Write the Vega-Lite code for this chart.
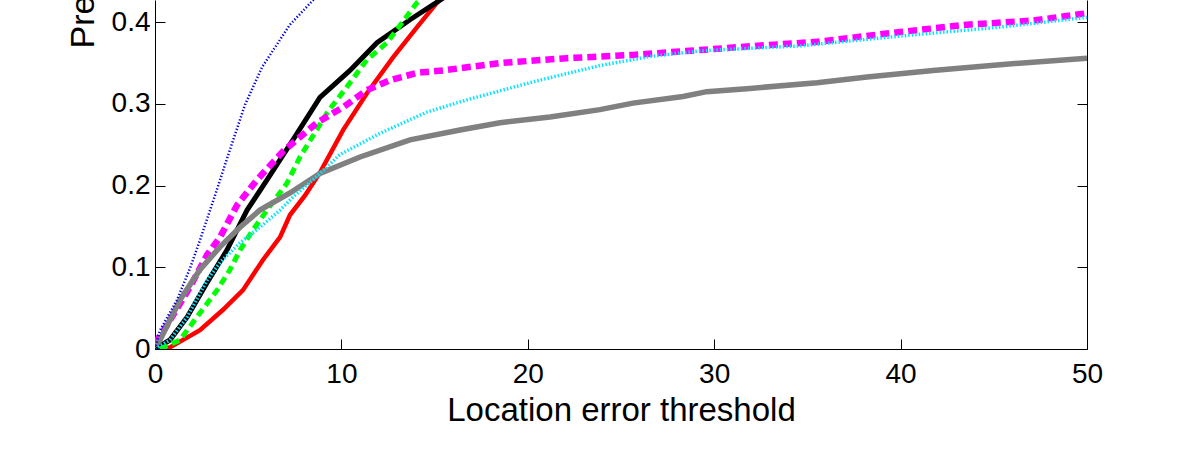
{
  "$schema": "https://vega.github.io/schema/vega-lite/v6.json",
  "width": 932,
  "height": 349,
  "autosize": {"type": "none"},
  "padding": {"left": 155, "top": 0, "right": 114, "bottom": 100},
  "background": "white",
  "config": {
    "view": {"stroke": null},
    "font": "Liberation Sans",
    "axis": {"domainColor": "black", "tickColor": "black", "labelColor": "black", "titleColor": "black", "grid": false, "labelFont": "Liberation Sans", "titleFont": "Liberation Sans", "labelFontSize": 28, "titleFontSize": 33, "titleFontWeight": "normal", "domainWidth": 1, "tickWidth": 1}
  },
  "datasets": {
    "curves": [
      {"s": "blue", "x": 0, "y": 0}, {"s": "blue", "x": 0.27, "y": 0.023}, {"s": "blue", "x": 1.18, "y": 0.06}, {"s": "blue", "x": 1.88, "y": 0.099}, {"s": "blue", "x": 2.41, "y": 0.133}, {"s": "blue", "x": 3.22, "y": 0.188}, {"s": "blue", "x": 4.02, "y": 0.244}, {"s": "blue", "x": 4.83, "y": 0.299}, {"s": "blue", "x": 5.74, "y": 0.345}, {"s": "blue", "x": 7.24, "y": 0.397}, {"s": "blue", "x": 8.48, "y": 0.427}, {"s": "blue", "x": 10.0, "y": 0.46},
      {"s": "black", "x": 0, "y": 0}, {"s": "black", "x": 0.8, "y": 0.011}, {"s": "black", "x": 1.72, "y": 0.039}, {"s": "black", "x": 2.79, "y": 0.081}, {"s": "black", "x": 3.86, "y": 0.121}, {"s": "black", "x": 4.94, "y": 0.17}, {"s": "black", "x": 6.01, "y": 0.207}, {"s": "black", "x": 7.4, "y": 0.256}, {"s": "black", "x": 8.85, "y": 0.308}, {"s": "black", "x": 10.46, "y": 0.341}, {"s": "black", "x": 11.91, "y": 0.375}, {"s": "black", "x": 13.68, "y": 0.403}, {"s": "black", "x": 15.29, "y": 0.427}, {"s": "black", "x": 16.8, "y": 0.45},
      {"s": "green", "x": 0.27, "y": 0}, {"s": "green", "x": 1.34, "y": 0.011}, {"s": "green", "x": 2.41, "y": 0.044}, {"s": "green", "x": 3.33, "y": 0.072}, {"s": "green", "x": 4.02, "y": 0.097}, {"s": "green", "x": 4.56, "y": 0.121}, {"s": "green", "x": 5.26, "y": 0.146}, {"s": "green", "x": 6.01, "y": 0.17}, {"s": "green", "x": 7.08, "y": 0.203}, {"s": "green", "x": 7.78, "y": 0.235}, {"s": "green", "x": 9.23, "y": 0.289}, {"s": "green", "x": 10.46, "y": 0.326}, {"s": "green", "x": 11.37, "y": 0.354}, {"s": "green", "x": 12.45, "y": 0.375}, {"s": "green", "x": 14.06, "y": 0.424}, {"s": "green", "x": 15.2, "y": 0.45},
      {"s": "red", "x": 0, "y": 0}, {"s": "red", "x": 0.8, "y": 0.002}, {"s": "red", "x": 2.41, "y": 0.023}, {"s": "red", "x": 3.65, "y": 0.048}, {"s": "red", "x": 4.72, "y": 0.072}, {"s": "red", "x": 5.79, "y": 0.109}, {"s": "red", "x": 6.71, "y": 0.137}, {"s": "red", "x": 7.24, "y": 0.164}, {"s": "red", "x": 8.05, "y": 0.188}, {"s": "red", "x": 8.85, "y": 0.216}, {"s": "red", "x": 10.09, "y": 0.268}, {"s": "red", "x": 11.37, "y": 0.313}, {"s": "red", "x": 12.77, "y": 0.357}, {"s": "red", "x": 14.06, "y": 0.394}, {"s": "red", "x": 15.13, "y": 0.424}, {"s": "red", "x": 16.2, "y": 0.45},
      {"s": "magenta", "x": 0, "y": 0.007}, {"s": "magenta", "x": 0.64, "y": 0.029}, {"s": "magenta", "x": 1.88, "y": 0.076}, {"s": "magenta", "x": 2.79, "y": 0.115}, {"s": "magenta", "x": 3.49, "y": 0.137}, {"s": "magenta", "x": 4.4, "y": 0.176}, {"s": "magenta", "x": 5.47, "y": 0.207}, {"s": "magenta", "x": 6.87, "y": 0.242}, {"s": "magenta", "x": 8.69, "y": 0.277}, {"s": "magenta", "x": 10.09, "y": 0.296}, {"s": "magenta", "x": 11.37, "y": 0.317}, {"s": "magenta", "x": 12.61, "y": 0.329}, {"s": "magenta", "x": 14.06, "y": 0.338}, {"s": "magenta", "x": 15.45, "y": 0.341}, {"s": "magenta", "x": 18.51, "y": 0.35}, {"s": "magenta", "x": 22.1, "y": 0.356}, {"s": "magenta", "x": 25.64, "y": 0.36}, {"s": "magenta", "x": 29.24, "y": 0.366}, {"s": "magenta", "x": 32.83, "y": 0.372}, {"s": "magenta", "x": 35.52, "y": 0.376}, {"s": "magenta", "x": 39.97, "y": 0.388}, {"s": "magenta", "x": 43.56, "y": 0.397}, {"s": "magenta", "x": 47.1, "y": 0.402}, {"s": "magenta", "x": 50, "y": 0.411},
      {"s": "cyan", "x": 0, "y": 0}, {"s": "cyan", "x": 0.8, "y": 0.011}, {"s": "cyan", "x": 1.72, "y": 0.039}, {"s": "cyan", "x": 2.79, "y": 0.084}, {"s": "cyan", "x": 3.49, "y": 0.106}, {"s": "cyan", "x": 4.56, "y": 0.13}, {"s": "cyan", "x": 5.79, "y": 0.152}, {"s": "cyan", "x": 6.71, "y": 0.17}, {"s": "cyan", "x": 7.4, "y": 0.186}, {"s": "cyan", "x": 8.58, "y": 0.209}, {"s": "cyan", "x": 9.92, "y": 0.238}, {"s": "cyan", "x": 12.07, "y": 0.264}, {"s": "cyan", "x": 14.59, "y": 0.29}, {"s": "cyan", "x": 16.74, "y": 0.305}, {"s": "cyan", "x": 20.28, "y": 0.327}, {"s": "cyan", "x": 23.87, "y": 0.347}, {"s": "cyan", "x": 26.56, "y": 0.358}, {"s": "cyan", "x": 29.24, "y": 0.365}, {"s": "cyan", "x": 34.6, "y": 0.371}, {"s": "cyan", "x": 39.97, "y": 0.383}, {"s": "cyan", "x": 45.33, "y": 0.394}, {"s": "cyan", "x": 50, "y": 0.406},
      {"s": "gray", "x": 0, "y": 0.004}, {"s": "gray", "x": 0.27, "y": 0.011}, {"s": "gray", "x": 1.34, "y": 0.06}, {"s": "gray", "x": 2.41, "y": 0.097}, {"s": "gray", "x": 3.49, "y": 0.125}, {"s": "gray", "x": 4.56, "y": 0.149}, {"s": "gray", "x": 5.63, "y": 0.17}, {"s": "gray", "x": 7.24, "y": 0.191}, {"s": "gray", "x": 8.85, "y": 0.215}, {"s": "gray", "x": 11.0, "y": 0.235}, {"s": "gray", "x": 13.68, "y": 0.256}, {"s": "gray", "x": 16.36, "y": 0.268}, {"s": "gray", "x": 18.51, "y": 0.277}, {"s": "gray", "x": 21.19, "y": 0.284}, {"s": "gray", "x": 23.87, "y": 0.293}, {"s": "gray", "x": 25.64, "y": 0.301}, {"s": "gray", "x": 28.33, "y": 0.309}, {"s": "gray", "x": 29.6, "y": 0.315}, {"s": "gray", "x": 31.92, "y": 0.319}, {"s": "gray", "x": 35.52, "y": 0.326}, {"s": "gray", "x": 38.2, "y": 0.333}, {"s": "gray", "x": 41.74, "y": 0.341}, {"s": "gray", "x": 45.33, "y": 0.348}, {"s": "gray", "x": 50, "y": 0.356}
    ]
  },
  "data": {"name": "curves"},
  "resolve": {"axis": {"y": "independent"}},
  "layer": [
    {
      "transform": [{"filter": "datum.s === 'red'"}],
      "mark": {"type": "line", "color": "#ff0000", "strokeWidth": 4.5, "clip": true},
      "encoding": {
        "x": {"field": "x", "type": "quantitative", "scale": {"domain": [0, 50], "nice": false}, "axis": {"title": "Location error threshold", "values": [0, 10, 20, 30, 40, 50], "tickSize": -10, "labelPadding": 21, "titleBaseline": "alphabetic", "titleY": 71, "titleX": 466, "labelFlush": false}},
        "y": {"field": "y", "type": "quantitative", "scale": {"domain": [0, 0.4272], "nice": false, "zero": false}, "axis": {"title": "Precision", "orient": "left", "values": [0, 0.1, 0.2, 0.3, 0.4], "format": ".1~f", "tickSize": -10, "labelPadding": 15, "titleFontSize": 34, "titleAngle": 270, "titleAlign": "left", "titleBaseline": "alphabetic", "titleX": -62, "titleY": 48, "labelFlush": false}}
      }
    },
    {
      "transform": [{"filter": "datum.s === 'black'"}],
      "mark": {"type": "line", "color": "#000000", "strokeWidth": 5, "clip": true},
      "encoding": {"x": {"field": "x", "type": "quantitative"}, "y": {"field": "y", "type": "quantitative", "axis": {"orient": "right", "title": null, "labels": false, "values": [0, 0.1, 0.2, 0.3, 0.4], "tickSize": -10}}}
    },
    {
      "transform": [{"filter": "datum.s === 'green'"}],
      "mark": {"type": "line", "color": "#00ff00", "strokeWidth": 5, "strokeDash": [8, 5], "clip": true},
      "encoding": {"x": {"field": "x", "type": "quantitative"}, "y": {"field": "y", "type": "quantitative", "axis": null}}
    },
    {
      "transform": [{"filter": "datum.s === 'magenta'"}],
      "mark": {"type": "line", "color": "#ff00ff", "strokeWidth": 6.5, "strokeDash": [9, 5], "clip": true},
      "encoding": {"x": {"field": "x", "type": "quantitative"}, "y": {"field": "y", "type": "quantitative", "axis": null}}
    },
    {
      "transform": [{"filter": "datum.s === 'gray'"}],
      "mark": {"type": "line", "color": "#808080", "strokeWidth": 5.5, "clip": true},
      "encoding": {"x": {"field": "x", "type": "quantitative"}, "y": {"field": "y", "type": "quantitative", "axis": null}}
    },
    {
      "transform": [{"filter": "datum.s === 'cyan'"}],
      "mark": {"type": "line", "color": "#00e5ff", "strokeWidth": 3.5, "strokeDash": [1.5, 2], "clip": true},
      "encoding": {"x": {"field": "x", "type": "quantitative"}, "y": {"field": "y", "type": "quantitative", "axis": null}}
    },
    {
      "transform": [{"filter": "datum.s === 'blue'"}],
      "mark": {"type": "line", "color": "#0000e0", "strokeWidth": 2.5, "strokeDash": [1.3, 2], "clip": true},
      "encoding": {"x": {"field": "x", "type": "quantitative"}, "y": {"field": "y", "type": "quantitative", "axis": null}}
    }
  ]
}
